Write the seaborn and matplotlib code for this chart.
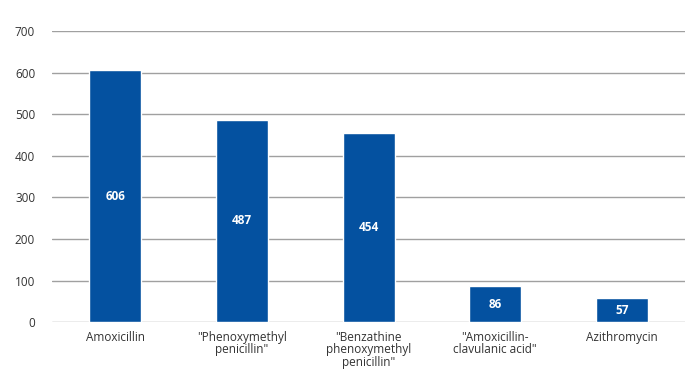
import matplotlib
matplotlib.use("Agg")
import matplotlib.pyplot as plt
import seaborn as sns
import pandas as pd

categories = ["Amoxicillin", "\"Phenoxymethyl\npenicillin\"", "\"Benzathine\nphenoxymethyl\npenicillin\"",
              "\"Amoxicillin-\nclavulanic acid\"", "Azithromycin"]
values = [606, 487, 454, 86, 57]
yticks = [0, 100, 200, 300, 400, 500, 600, 700]

sns.set_theme(style="white")
plt.rcParams['font.family'] = ['Open Sans', 'DejaVu Sans']

df = pd.DataFrame({"drug": categories, "count": values})

fig = plt.figure(figsize=(7, 3.91), dpi=100)
ax = fig.add_axes([0.074, 0.176, 0.905, 0.745])
ax.set_axisbelow(True)
sns.barplot(data=df, x="drug", y="count", color="#0451a0", saturation=1, width=0.41, ax=ax, zorder=3)
ax.set_ylim(0, 700)
ax.set_yticks(yticks)
ax.yaxis.grid(True, color="#a0a0a0", linewidth=1)
for s in ax.spines.values():
    s.set_visible(False)
ax.tick_params(axis="both", length=0, labelsize=8.5, labelcolor="#333333")
ax.tick_params(axis="y", pad=12)
ax.tick_params(axis="x", pad=6)
ax.set_xlabel("")
ax.set_ylabel("")
for lbl in ax.get_xticklabels():
    lbl.set_linespacing(0.95)
for p, v in zip(ax.patches, values):
    ax.text(p.get_x() + p.get_width() / 2, v / 2, str(v), ha="center", va="center",
            color="white", fontsize=8.5, fontweight="bold", zorder=4)
fig.savefig("out.png", dpi=100)
